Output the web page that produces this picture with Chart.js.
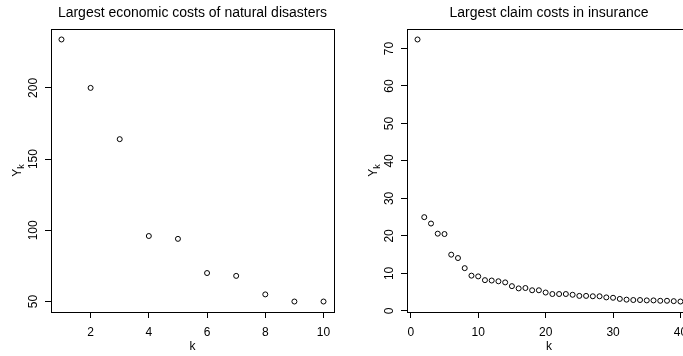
<!DOCTYPE html>
<html>
<head>
<meta charset="utf-8">
<script src="https://cdn.jsdelivr.net/npm/chart.js@4/dist/chart.umd.min.js"></script>
<style>
  html, body { margin: 0; padding: 0; background: #fff; }
  body { width: 683px; height: 356px; overflow: hidden; position: relative; }
  .panel { position: absolute; top: 0; width: 357px; height: 356px; }
</style>
</head>
<body>
<div class="panel" style="left:0"><canvas id="disasters" width="357" height="356"></canvas></div>
<div class="panel" style="left:357px"><canvas id="claims" width="357" height="356"></canvas></div>
<script>
// ordered largest values Y_k, k = 1, 2, ...
var disasterK = [1, 2, 3, 4, 5, 6, 7, 8, 9, 10];
var disasterCosts = [234, 200, 164, 96, 94, 70, 68, 55, 50, 50];
var disasterXTicks = [2, 4, 6, 8, 10];
var disasterYTicks = [50, 100, 150, 200];

var claimCosts = [72.4, 25.0, 23.3, 20.6, 20.5, 15.0, 14.1, 11.4, 9.4, 9.2,
                  8.2, 8.1, 7.9, 7.6, 6.6, 6.0, 6.1, 5.5, 5.5, 4.9,
                  4.5, 4.5, 4.5, 4.3, 4.0, 4.0, 3.9, 3.9, 3.6, 3.5,
                  3.2, 3.0, 2.9, 2.9, 2.8, 2.8, 2.7, 2.7, 2.6, 2.5];
var claimXTicks = [0, 10, 20, 30, 40];
var claimYTicks = [0, 10, 20, 30, 40, 50, 60, 70];

var FONT = '"Liberation Sans", Arial, Helvetica, sans-serif';

// R-style range: data extent plus 4% on each side
function padRange(vals) {
  var lo = Math.min.apply(null, vals), hi = Math.max.apply(null, vals);
  var d = (hi - lo) * 0.04;
  return [lo - d, hi + d];
}

// box, title, tick labels and axis labels in base-graphics style
var rText = {
  id: 'rText',
  afterDraw: function (chart, args, opts) {
    var ctx = chart.ctx, a = chart.chartArea;
    var xs = chart.scales.x, ys = chart.scales.y;
    ctx.save();
    ctx.strokeStyle = '#000';
    ctx.lineWidth = 1;
    ctx.strokeRect(a.left + 0.5, a.top + 0.5, a.right - a.left, a.bottom - a.top);

    ctx.fillStyle = '#000';
    ctx.textAlign = 'center';
    ctx.textBaseline = 'alphabetic';
    var cx = (a.left + a.right) / 2, cy = (a.top + a.bottom) / 2;

    ctx.font = '14px ' + FONT;
    ctx.fillText(opts.title, cx, 17);

    ctx.font = '12px ' + FONT;
    xs.ticks.forEach(function (t) {
      ctx.fillText(String(t.value), xs.getPixelForValue(t.value), a.bottom + 23.5);
    });
    ctx.fillText('k', cx, a.bottom + 37.5);

    ys.ticks.forEach(function (t) {
      ctx.save();
      ctx.translate(a.left - 14, ys.getPixelForValue(t.value));
      ctx.rotate(-Math.PI / 2);
      ctx.fillText(String(t.value), 0, 0);
      ctx.restore();
    });

    // Y with subscript k
    ctx.save();
    ctx.translate(a.left - 30, cy);
    ctx.rotate(-Math.PI / 2);
    ctx.textAlign = 'left';
    ctx.font = '12px ' + FONT;
    var wY = ctx.measureText('Y').width;
    ctx.font = '9px ' + FONT;
    var wk = ctx.measureText('k').width;
    var x0 = -(wY + wk) / 2;
    ctx.font = '12px ' + FONT;
    ctx.fillText('Y', x0, 0);
    ctx.font = '9px ' + FONT;
    ctx.fillText('k', x0 + wY, 3);
    ctx.restore();

    ctx.restore();
  }
};

function makeChart(id, points, xRange, yRange, xTicks, yTicks, title, padLeft) {
  return new Chart(document.getElementById(id), {
    type: 'scatter',
    data: {
      datasets: [{
        data: points,
        pointStyle: 'circle',
        pointRadius: 2.5,
        pointBorderWidth: 1,
        pointBorderColor: '#000',
        pointBackgroundColor: 'rgba(0,0,0,0)',
        showLine: false
      }]
    },
    options: {
      responsive: false,
      animation: false,
      devicePixelRatio: 1,
      layout: { padding: { left: padLeft, right: 23, top: 29, bottom: 44 } },
      plugins: {
        legend: { display: false },
        tooltip: { enabled: false },
        rText: { title: title }
      },
      scales: {
        x: {
          type: 'linear',
          position: 'bottom',
          min: xRange[0],
          max: xRange[1],
          afterBuildTicks: function (s) { s.ticks = xTicks.map(function (v) { return { value: v }; }); },
          afterFit: function (s) { s.height = 0; },
          grid: { drawOnChartArea: false, tickLength: 6, color: '#000', lineWidth: 1 },
          border: { color: '#000', width: 1 },
          ticks: { display: false }
        },
        y: {
          type: 'linear',
          position: 'left',
          min: yRange[0],
          max: yRange[1],
          afterBuildTicks: function (s) { s.ticks = yTicks.map(function (v) { return { value: v }; }); },
          afterFit: function (s) { s.width = 0; },
          grid: { drawOnChartArea: false, tickLength: 6, color: '#000', lineWidth: 1 },
          border: { color: '#000', width: 1 },
          ticks: { display: false }
        }
      }
    },
    plugins: [rText]
  });
}

var disasterPts = disasterK.map(function (k, i) { return { x: k, y: disasterCosts[i] }; });
makeChart('disasters', disasterPts,
  padRange(disasterK), padRange(disasterCosts),
  disasterXTicks, disasterYTicks,
  'Largest economic costs of natural disasters', 51);

var claimK = claimCosts.map(function (v, i) { return i + 1; });
var claimPts = claimCosts.map(function (v, i) { return { x: claimK[i], y: v }; });
makeChart('claims', claimPts,
  padRange(claimK), padRange(claimCosts),
  claimXTicks, claimYTicks,
  'Largest claim costs in insurance', 50);
</script>
</body>
</html>
